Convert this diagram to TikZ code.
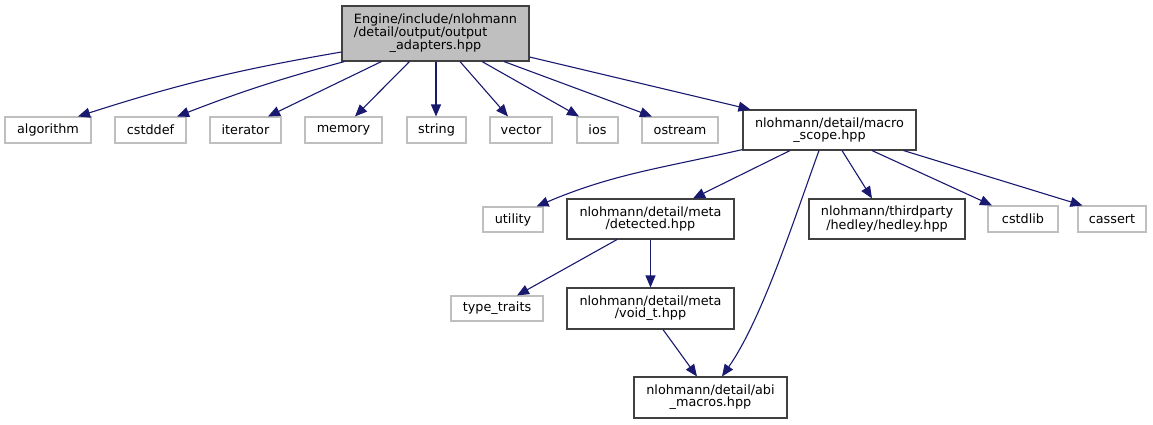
\documentclass[tikz,border=0pt]{standalone}
\usepackage{fontspec}
\setmainfont{DejaVu Sans}
\usetikzlibrary{arrows.meta}
\definecolor{edgeblue}{RGB}{25,25,112}
\definecolor{lightborder}{RGB}{191,191,191}
\definecolor{darkborder}{RGB}{64,64,64}
\definecolor{mainfill}{RGB}{191,191,191}
\begin{document}
\begin{tikzpicture}[x=1pt,y=-1pt,
  base/.style={rectangle, inner sep=0pt, font=\fontsize{12.8}{12}\selectfont, line width=1.1pt, text=black},
  ext/.style={base, draw=lightborder, fill=white, minimum height=26pt},
  hdr/.style={base, draw=darkborder, fill=white, align=center, minimum height=40pt},
  mainnode/.style={base, draw=darkborder, fill=mainfill, minimum width=187pt, minimum height=55pt},
  dep/.style={draw=edgeblue, line width=1.1pt, -{Triangle[length=12pt,width=10pt]}}
]
\useasboundingbox (0,0) rectangle (1153,424);

\node[mainnode] (main) at (435.5,33.5) {\begin{tabular}{@{}l@{}}Engine/include/nlohmann\\/detail/output/output\\\multicolumn{1}{@{}c@{}}{\_adapters.hpp}\end{tabular}};

\node[ext, minimum width=86pt] (algorithm) at (48,130) {algorithm};
\node[ext, minimum width=71pt] (cstddef) at (150.5,130) {cstddef};
\node[ext, minimum width=71pt] (iterator) at (245.5,130) {iterator};
\node[ext, minimum width=77pt] (memory) at (343.5,130) {memory};
\node[ext, minimum width=59pt] (string) at (436.5,130) {string};
\node[ext, minimum width=62pt] (vector) at (521,130) {vector};
\node[ext, minimum width=41pt] (ios) at (597.5,130) {ios};
\node[ext, minimum width=76pt] (ostream) at (680,130) {ostream};
\node[hdr, minimum width=173pt] (macro) at (829.5,130) {nlohmann/detail/macro\\\_scope.hpp};

\node[ext, minimum width=60pt, minimum height=25pt] (utility) at (513,219.5) {utility};
\node[hdr, minimum width=167pt] (detected) at (650.5,219) {nlohmann/detail/meta\\/detected.hpp};
\node[hdr, minimum width=156pt] (hedley) at (887,219) {nlohmann/thirdparty\\/hedley/hedley.hpp};
\node[ext, minimum width=70pt] (cstdlib) at (1023,219) {cstdlib};
\node[ext, minimum width=68pt] (cassert) at (1112,219) {cassert};

\node[ext, minimum width=92pt, minimum height=25pt] (typetraits) at (497,308.5) {type\_traits};
\node[hdr, minimum width=167pt, minimum height=41pt] (voidt) at (650.5,308.5) {nlohmann/detail/meta\\/void\_t.hpp};
\node[hdr, minimum width=153pt, minimum height=41pt] (abi) at (710.5,397.5) {nlohmann/detail/abi\\\_macros.hpp};

\draw[dep] ([yshift=-18.5pt]main.west) to[bend right=4] ([xshift=30pt]algorithm.north);
\draw[dep] ([xshift=3pt]main.south west) to[bend right=3] ([xshift=26.5pt]cstddef.north);
\draw[dep] ([xshift=40pt]main.south west) -- ([xshift=22.5pt]iterator.north);
\draw[dep] ([xshift=68pt]main.south west) -- ([xshift=11.5pt]memory.north);
\draw[dep] ([xshift=0.5pt]main.south) -- ([xshift=-0.5pt]string.north);
\draw[dep] ([xshift=24.5pt]main.south) -- ([xshift=-13pt]vector.north);
\draw[dep] ([xshift=46.5pt]main.south) -- ([xshift=-18.5pt]ios.north);
\draw[dep] ([xshift=68.5pt]main.south) -- ([xshift=-28pt]ostream.north);
\draw[dep] ([yshift=-23.5pt]main.east) -- ([xshift=8pt]macro.north west);

\draw[dep] ([yshift=1pt]macro.south west) to[out=193,in=23] ([xshift=-7pt]utility.north east);
\draw[dep] ([xshift=-39.5pt]macro.south) -- ([xshift=42.5pt]detected.north);
\draw[dep] ([xshift=-10.5pt]macro.south) to[out=250,in=55,looseness=0.73] ([xshift=11.5pt]abi.north);
\draw[dep] ([xshift=12.5pt]macro.south) -- ([xshift=-15pt]hedley.north);
\draw[dep] ([xshift=42.5pt]macro.south) -- ([xshift=-31pt]cstdlib.north);
\draw[dep] ([xshift=-13pt]macro.south east) -- ([xshift=5pt]cassert.north west);

\draw[dep] ([xshift=-33.5pt]detected.south) -- ([xshift=20pt]typetraits.north);
\draw[dep] (detected.south) -- (voidt.north);
\draw[dep] ([xshift=12.5pt]voidt.south) -- ([xshift=-13.5pt]abi.north);
\end{tikzpicture}
\end{document}
